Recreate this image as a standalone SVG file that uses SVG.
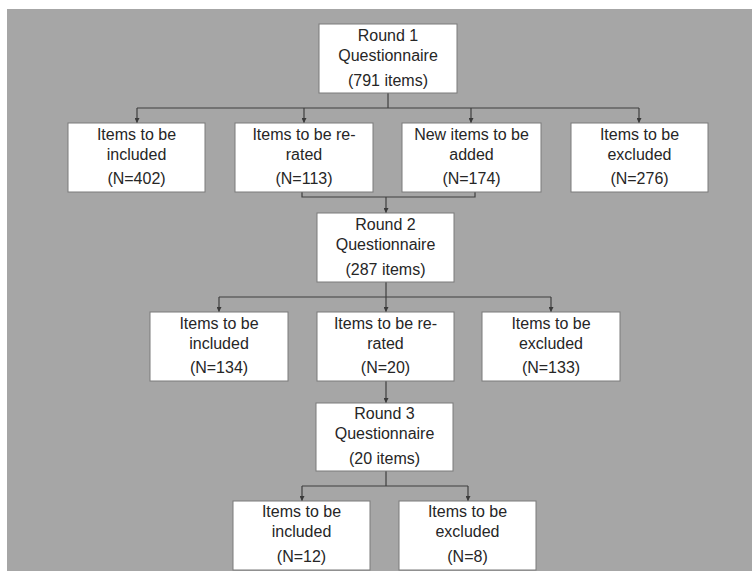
<svg xmlns="http://www.w3.org/2000/svg" width="752" height="571" viewBox="0 0 752 571">
<defs>
<marker id="arr" viewBox="0 0 10 10" refX="10" refY="5" markerWidth="5" markerHeight="5" orient="auto" markerUnits="userSpaceOnUse">
<path d="M0,0 L10,5 L0,10 z" fill="#3a3a3a"/>
</marker>
<style>
.box{fill:#ffffff;stroke:#7a7a7a;stroke-width:1}
.t{font-family:"Liberation Sans",Arial,sans-serif;font-size:16px;fill:#262626;text-anchor:middle}
.c{fill:none;stroke:#3f3f3f;stroke-width:1.2}
</style>
</defs>
<rect x="0" y="0" width="752" height="571" fill="#ffffff"/>
<rect x="7" y="9" width="745" height="562" fill="#a6a6a6"/>
<g id="connectors">
<path class="c" d="M388,93 V108 M137,108 H639"/>
<path class="c" d="M137,108 V123" marker-end="url(#arr)"/>
<path class="c" d="M304,108 V123" marker-end="url(#arr)"/>
<path class="c" d="M471,108 V123" marker-end="url(#arr)"/>
<path class="c" d="M639,108 V123" marker-end="url(#arr)"/>
<path class="c" d="M302,192 V197 H475 V192"/>
<path class="c" d="M386,197 V213" marker-end="url(#arr)"/>
<path class="c" d="M386,282 V297 M219,297 H551"/>
<path class="c" d="M219,297 V312" marker-end="url(#arr)"/>
<path class="c" d="M386,297 V312" marker-end="url(#arr)"/>
<path class="c" d="M551,297 V312" marker-end="url(#arr)"/>
<path class="c" d="M386,381 V403" marker-end="url(#arr)"/>
<path class="c" d="M386,471 V486 M302,486 H468"/>
<path class="c" d="M302,486 V501" marker-end="url(#arr)"/>
<path class="c" d="M468,486 V501" marker-end="url(#arr)"/>
</g>
<g id="round1">
<rect class="box" x="319" y="24" width="138" height="69"/>
<text class="t" x="388" y="41">Round 1</text>
<text class="t" x="388" y="61">Questionnaire</text>
<text class="t" x="388" y="86">(791 items)</text>
</g>
<g id="r1_included">
<rect class="box" x="68" y="123" width="137" height="69"/>
<text class="t" x="136.5" y="140">Items to be</text>
<text class="t" x="136.5" y="160">included</text>
<text class="t" x="136.5" y="184">(N=402)</text>
</g>
<g id="r1_rerated">
<rect class="box" x="235" y="123" width="138" height="69"/>
<text class="t" x="304" y="140">Items to be re-</text>
<text class="t" x="304" y="160">rated</text>
<text class="t" x="304" y="184">(N=113)</text>
</g>
<g id="r1_new">
<rect class="box" x="402" y="123" width="139" height="69"/>
<text class="t" x="471.5" y="140">New items to be</text>
<text class="t" x="471.5" y="160">added</text>
<text class="t" x="471.5" y="184">(N=174)</text>
</g>
<g id="r1_excluded">
<rect class="box" x="571" y="123" width="137" height="69"/>
<text class="t" x="639.5" y="140">Items to be</text>
<text class="t" x="639.5" y="160">excluded</text>
<text class="t" x="639.5" y="184">(N=276)</text>
</g>
<g id="round2">
<rect class="box" x="317" y="213" width="137" height="69"/>
<text class="t" x="385.5" y="230">Round 2</text>
<text class="t" x="385.5" y="250">Questionnaire</text>
<text class="t" x="385.5" y="275">(287 items)</text>
</g>
<g id="r2_included">
<rect class="box" x="150" y="312" width="138" height="69"/>
<text class="t" x="219" y="329">Items to be</text>
<text class="t" x="219" y="349">included</text>
<text class="t" x="219" y="373">(N=134)</text>
</g>
<g id="r2_rerated">
<rect class="box" x="317" y="312" width="137" height="69"/>
<text class="t" x="385.5" y="329">Items to be re-</text>
<text class="t" x="385.5" y="349">rated</text>
<text class="t" x="385.5" y="373">(N=20)</text>
</g>
<g id="r2_excluded">
<rect class="box" x="482" y="312" width="138" height="69"/>
<text class="t" x="551" y="329">Items to be</text>
<text class="t" x="551" y="349">excluded</text>
<text class="t" x="551" y="373">(N=133)</text>
</g>
<g id="round3">
<rect class="box" x="316" y="403" width="137" height="68"/>
<text class="t" x="384.5" y="419">Round 3</text>
<text class="t" x="384.5" y="439">Questionnaire</text>
<text class="t" x="384.5" y="464">(20 items)</text>
</g>
<g id="r3_included">
<rect class="box" x="233" y="501" width="137" height="69"/>
<text class="t" x="301.5" y="517">Items to be</text>
<text class="t" x="301.5" y="537">included</text>
<text class="t" x="301.5" y="562">(N=12)</text>
</g>
<g id="r3_excluded">
<rect class="box" x="399" y="501" width="137" height="69"/>
<text class="t" x="467.5" y="517">Items to be</text>
<text class="t" x="467.5" y="537">excluded</text>
<text class="t" x="467.5" y="562">(N=8)</text>
</g>
</svg>
